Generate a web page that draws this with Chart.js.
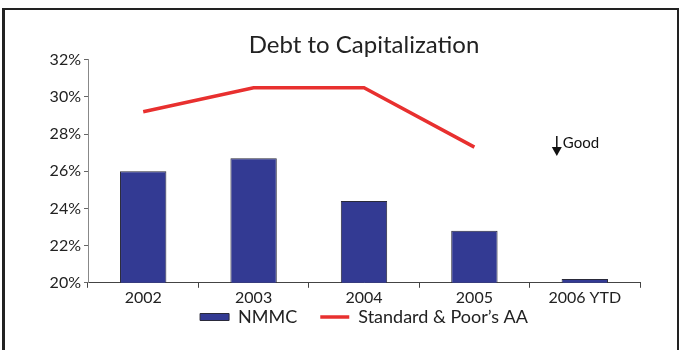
<!DOCTYPE html>
<html>
<head>
<meta charset="utf-8">
<script src="https://cdn.jsdelivr.net/npm/chart.js@4/dist/chart.umd.min.js"></script>
<style>
  html, body { margin: 0; padding: 0; background: #fff; }
  #wrap { position: relative; width: 680px; height: 350px; overflow: hidden; }
  #frame {
    position: absolute; left: 2px; top: 8px; width: 672px; height: 400px;
    border-left: 3px solid #222; border-top: 2px solid #222; border-right: 2px solid #222;
    pointer-events: none;
  }
  canvas { position: absolute; left: 0; top: 0; }
</style>
</head>
<body>
<div id="wrap">
  <canvas id="chart" width="680" height="350"></canvas>
  <div id="frame"></div>
</div>
<script>
const years = ['2002', '2003', '2004', '2005', '2006 YTD'];
const nmmc = [26.0, 26.7, 24.4, 22.8, 20.2];
const spAA = [29.2, 30.5, 30.5, 27.3, null];
const yMin = 20;
const yMax = 32;
const yStep = 2;

const FONT = 'Lato, "Open Sans", sans-serif';
const INK = '#222';

// "Good" marker with a down arrow, placed next to the last category
const goodNote = {
  text: 'Good',
  index: 4,
  value: 27.9,
  draw(chart) {
    const { ctx, scales } = chart;
    const x = scales.x.getPixelForValue(this.index) - 28;
    const y = scales.y.getPixelForValue(this.value);
    ctx.save();
    ctx.strokeStyle = '#111';
    ctx.fillStyle = '#111';
    ctx.lineWidth = 1.5;
    ctx.beginPath();
    ctx.moveTo(x, y);
    ctx.lineTo(x, y + 12);
    ctx.stroke();
    ctx.beginPath();
    ctx.moveTo(x - 5, y + 11);
    ctx.lineTo(x + 5, y + 11);
    ctx.lineTo(x, y + 20);
    ctx.closePath();
    ctx.fill();
    ctx.font = '15px ' + FONT;
    ctx.textBaseline = 'alphabetic';
    ctx.fillText(this.text, x + 6, y + 12);
    ctx.restore();
  },
};

// pull the legend up closer to the axis labels (label padding also sets item spacing)
const legendNudge = {
  id: 'legendNudge',
  afterLayout(chart) {
    const lg = chart.legend;
    const dy = lg.top - chart.scales.x.bottom + 22;
    lg.top -= dy;
    lg.bottom -= dy;
  },
};

new Chart(document.getElementById('chart'), {
  data: {
    labels: years,
    datasets: [
      {
        type: 'line',
        label: 'Standard & Poor\u2019s AA',
        data: spAA,
        borderColor: '#e8302f',
        backgroundColor: '#e8302f',
        borderWidth: 3.5,
        pointRadius: 0,
        tension: 0,
        spanGaps: false,
        order: 1,
        pointStyle: 'line',
      },
      {
        type: 'bar',
        label: 'NMMC',
        data: nmmc,
        backgroundColor: '#333a93',
        borderColor: '#2a2a3a',
        borderWidth: 1,
        barPercentage: 0.42,
        categoryPercentage: 1,
        order: 2,
        pointStyle: 'rect',
      },
    ],
  },
  options: {
    responsive: false,
    animation: false,
    layout: { padding: { left: 8, right: 40, top: 31, bottom: -8 } },
    scales: {
      x: {
        grid: { drawOnChartArea: false, drawTicks: true, tickLength: 5, color: '#444' },
        border: { color: '#444', width: 1 },
        ticks: { color: INK, font: { family: FONT, size: 16 }, padding: 0 },
      },
      y: {
        min: yMin,
        max: yMax,
        grid: { drawOnChartArea: false, drawTicks: true, tickLength: 4, color: '#666' },
        border: { color: '#888', width: 1 },
        ticks: {
          stepSize: yStep,
          color: INK,
          font: { family: FONT, size: 16 },
          padding: 3,
          callback: (v) => v + '%',
        },
        afterFit: (scale) => { scale.width = 80; },
      },
    },
    plugins: {
      title: {
        display: true,
        text: 'Debt to Capitalization',
        fullSize: false,
        color: INK,
        font: { family: FONT, size: 24, weight: 'normal' },
        padding: { top: 0, bottom: 0 },
      },
      legend: {
        position: 'bottom',
        fullSize: false,
        reverse: true,
        labels: {
          color: INK,
          font: { family: FONT, size: 18 },
          usePointStyle: true,
          pointStyleWidth: 29,
          boxHeight: 7,
          padding: 23,
        },
      },
      tooltip: { enabled: false },
    },
  },
  plugins: [legendNudge, { id: 'goodNote', afterDraw: (chart) => goodNote.draw(chart) }],
});
</script>
</body>
</html>
